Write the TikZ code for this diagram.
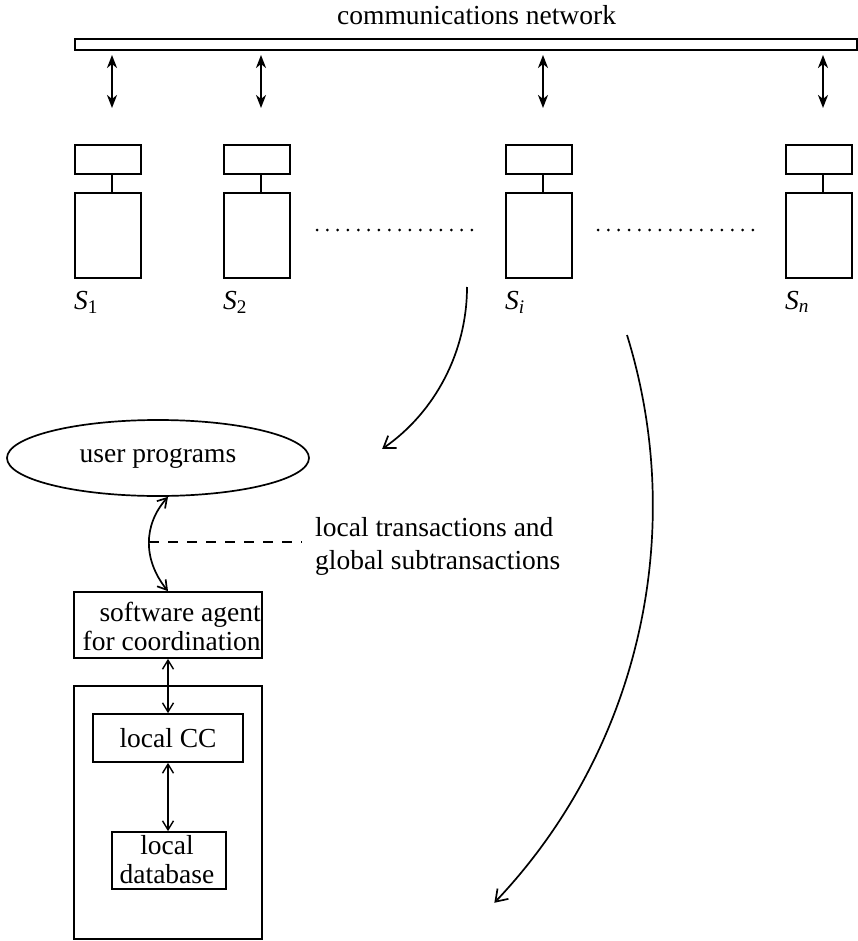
\documentclass[tikz,border=0pt]{standalone}
\usepackage{fontspec}
\setmainfont{Liberation Serif}
\usetikzlibrary{arrows.meta,shapes.geometric}
\begin{document}
\begin{tikzpicture}[x=1pt,y=-1pt,
  every node/.style={inner sep=0pt, font=\fontsize{27.5}{33}\selectfont},
  box/.style={draw, line width=1.7pt, rectangle},
  conn/.style={line width=1.6pt},
  netarrow/.style={line width=2.2pt, {Stealth[length=13pt,width=10pt,inset=4pt]}-{Stealth[length=13pt,width=10pt,inset=4pt]}},
  dblarrow/.style={line width=1.4pt, {Straight Barb[length=9pt,width=11pt]}-{Straight Barb[length=9pt,width=11pt]}},
  bigarrow/.style={line width=1.7pt, -{Straight Barb[length=11pt,width=15pt]}},
  tight/.style={font=\fontsize{27.5}{29}\selectfont},
  dotrun/.style={fill=black},
]
\useasboundingbox (0,0) rectangle (858,941);

% network
\node[anchor=base west] (net) at (337,25) {communications network};
\node[draw, line width=1.6pt, minimum width=782, minimum height=11, anchor=north west] (bar) at (74,38) {};

% sites
\foreach \n/\L/\sub in {a/74/{1}, b/223/{2}, c/505/{\itshape i}, d/785/{\itshape n}} {
  \node[box, minimum width=66, minimum height=29, anchor=north west] (\n top) at (\L,144) {};
  \node[box, minimum width=66, minimum height=85, anchor=north west] (\n body) at (\L,192) {};
  \coordinate (\n c) at (\L+38,0);
  \draw[conn] (\n top.south -| \n c) -- (\n body.north -| \n c);
  \coordinate (\n up) at (\L+38,55);
  \coordinate (\n dn) at (\L+38,108);
  \draw[netarrow] (\n up) -- (\n dn);
  \node[anchor=base west] (\n lab) at (\L,309) {{\itshape S}\textsubscript{\sub}};
}

% dotted runs
\foreach \k in {0,...,15} {
  \fill[dotrun] (317+\k*10.33,230) circle[radius=1.5];
  \fill[dotrun] (598+\k*10.33,230) circle[radius=1.5];
}

% arrows from S_i
\coordinate (arcAstart) at (467,287);
\draw[bigarrow] (arcAstart) arc[start angle=0, end angle=55.3, radius=197];
\coordinate (arcBstart) at (627,335);
\draw[bigarrow] (arcBstart) arc[start angle=-17.2, end angle=43.5, radius=577];

% user programs
\node[draw, ellipse, line width=1.7pt, minimum width=302, minimum height=76] (up) at (158,458) {user programs};

% software agent
\node[box, minimum width=188, minimum height=66] (agent) at (168,625) {};
\node[tight, anchor=east, align=right] (agenttxt) at ([xshift=-2pt,yshift=-1pt]agent.east) {software agent\\for coordination};

\draw[dblarrow, line width=1.7pt] ([xshift=10pt]up.south) .. controls (143,525) and (143,560) .. (agent.north);

% label
\coordinate (dashstart) at (149,542);
\coordinate (dashend) at (302,542);
\draw[line width=1.3pt, dash pattern=on 10pt off 9pt] (dashstart) -- (dashend);
\node[anchor=west, align=left] (lt) at (315,546) {local transactions and\\global subtransactions};

% local site
\node[box, minimum width=188, minimum height=253] (site) at (168,812.5) {};
\node[box, minimum width=150, minimum height=48] (cc) at (168,738) {local CC};
\node[box, minimum width=114, minimum height=57] (db) at (169,860.5) {};
\node[tight, align=center] (dbtxt) at (167,860) {local\\database};

\draw[dblarrow] (agent.south) -- (cc.north);
\draw[dblarrow] (cc.south) -- (cc.south |- db.north);
\end{tikzpicture}
\end{document}
